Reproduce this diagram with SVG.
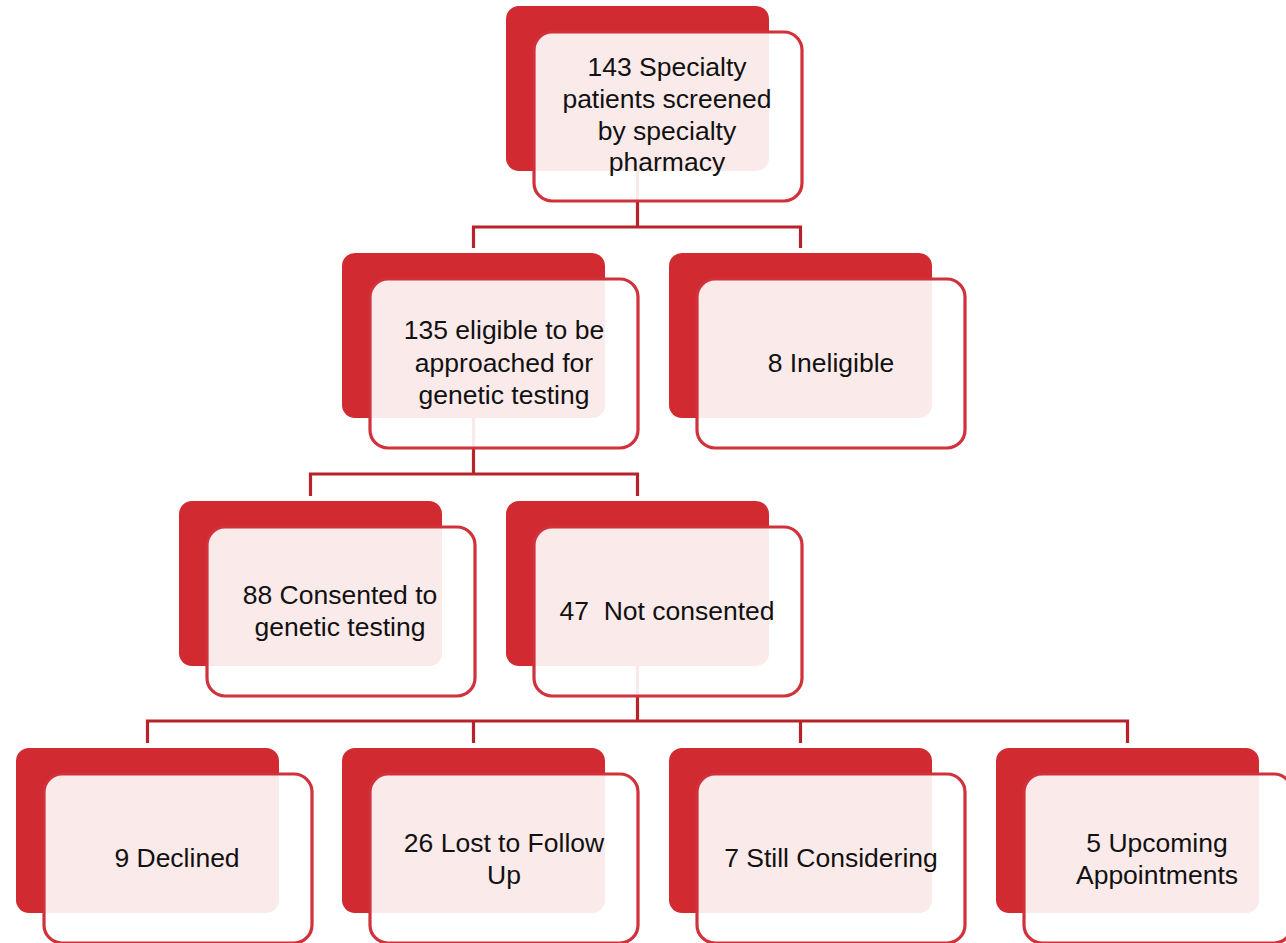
<svg xmlns="http://www.w3.org/2000/svg" width="1286" height="943" viewBox="0 0 1286 943">
<style>
.back{fill:#D12A31}
.front{fill:#ffffff;fill-opacity:0.9;stroke:#D1313A;stroke-width:3.2}
.conn{fill:none;stroke:#B8232B;stroke-width:3.2}
.t{font-family:"Liberation Sans",Arial,sans-serif;font-size:26.5px;fill:#111;text-anchor:middle;white-space:pre}
</style>
<rect width="1286" height="943" fill="#ffffff"/>
<g id="connectors">
<path class="conn" d="M637.5 171V227M473.5 248V227H800.5V248"/>
<path class="conn" d="M473.5 418V474M310.5 496V474H637.5V496"/>
<path class="conn" d="M637.5 666V721M147.5 743V721H1127.5V743M473.5 721V743M800.5 721V743"/>
</g>
<g id="n1"><rect class="back" x="506" y="6" width="263" height="165" rx="13"/><rect class="front" x="534" y="32" width="268" height="169" rx="18"/>
<text class="t" x="667" y="76">143 Specialty</text><text class="t" x="667" y="108">patients screened</text><text class="t" x="667" y="140">by specialty</text><text class="t" x="667" y="171">pharmacy</text></g>
<g id="n2"><rect class="back" x="342" y="253" width="263" height="165" rx="13"/><rect class="front" x="370" y="279" width="268" height="169" rx="18"/>
<text class="t" x="504" y="339">135 eligible to be</text><text class="t" x="504" y="372">approached for</text><text class="t" x="504" y="404">genetic testing</text></g>
<g id="n3"><rect class="back" x="669" y="253" width="263" height="165" rx="13"/><rect class="front" x="697" y="279" width="268" height="169" rx="18"/>
<text class="t" x="831" y="372">8 Ineligible</text></g>
<g id="n4"><rect class="back" x="179" y="501" width="263" height="165" rx="13"/><rect class="front" x="207" y="527" width="268" height="169" rx="18"/>
<text class="t" x="340" y="604">88 Consented to</text><text class="t" x="340" y="636">genetic testing</text></g>
<g id="n5"><rect class="back" x="506" y="501" width="263" height="165" rx="13"/><rect class="front" x="534" y="527" width="268" height="169" rx="18"/>
<text class="t" x="667" y="620">47  Not consented</text></g>
<g id="n6"><rect class="back" x="16" y="748" width="263" height="165" rx="13"/><rect class="front" x="44" y="774" width="268" height="169" rx="18"/>
<text class="t" x="177" y="867">9 Declined</text></g>
<g id="n7"><rect class="back" x="342" y="748" width="263" height="165" rx="13"/><rect class="front" x="370" y="774" width="268" height="169" rx="18"/>
<text class="t" x="504" y="852">26 Lost to Follow</text><text class="t" x="504" y="884">Up</text></g>
<g id="n8"><rect class="back" x="669" y="748" width="263" height="165" rx="13"/><rect class="front" x="697" y="774" width="268" height="169" rx="18"/>
<text class="t" x="831" y="867">7 Still Considering</text></g>
<g id="n9"><rect class="back" x="996" y="748" width="263" height="165" rx="13"/><rect class="front" x="1024" y="774" width="268" height="169" rx="18"/>
<text class="t" x="1157" y="852">5 Upcoming</text><text class="t" x="1157" y="884">Appointments</text></g>
</svg>
